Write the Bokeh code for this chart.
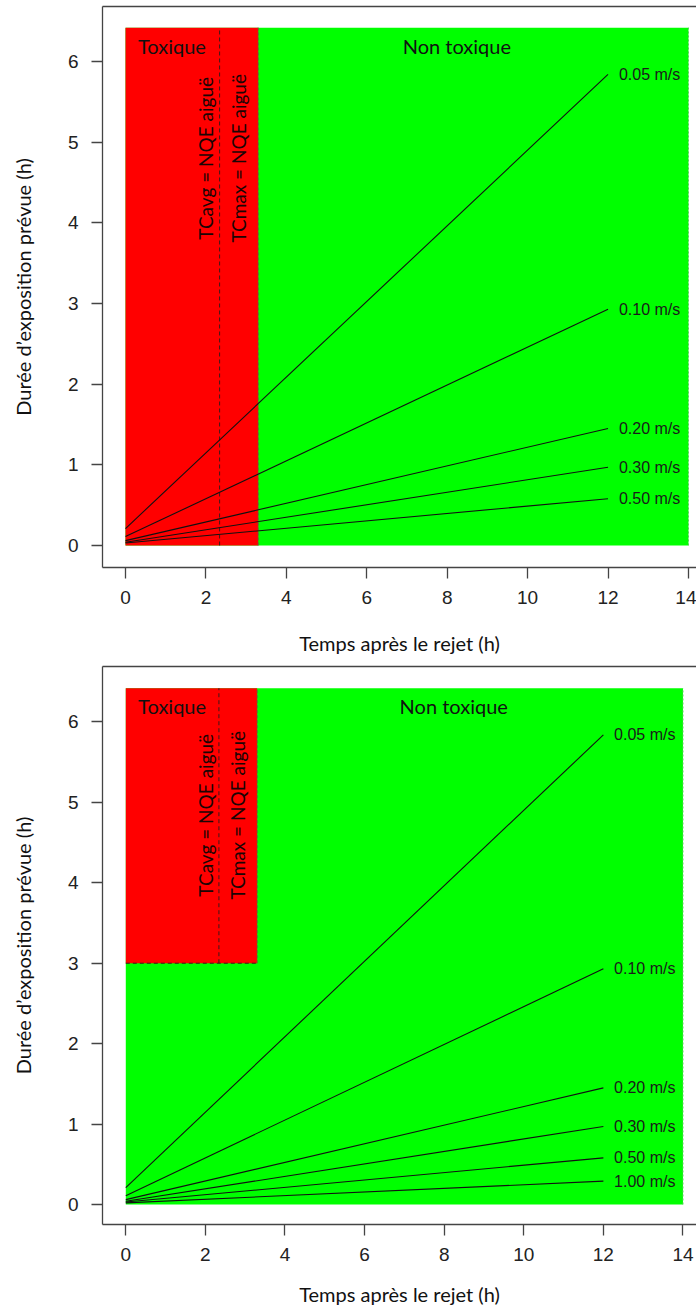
import math
from bokeh.plotting import figure
from bokeh.layouts import column
from bokeh.models import Range1d, LinearAxis, FixedTicker, ColumnDataSource
from bokeh.core.properties import value
from bokeh.embed import file_html
from bokeh.resources import INLINE

# ---------------- data ----------------
speed_labels = ["0.05 m/s", "0.10 m/s", "0.20 m/s", "0.30 m/s", "0.50 m/s", "1.00 m/s"]
t_start = 0.0
t_end = 12.0
dur_start = [0.21, 0.11, 0.06, 0.04, 0.03, 0.02]
dur_end = [5.84, 2.93, 1.45, 0.97, 0.58, 0.29]

x_ticks = [0, 2, 4, 6, 8, 10, 12, 14]
y_ticks = [0, 1, 2, 3, 4, 5, 6]

zone_xmax = 14.0
zone_ytop = 6.42
tc_avg = 2.34          # TCavg = NQE aiguë
tc_max = 3.30          # TCmax = NQE aiguë
toxic_floor = [0.0, 3.0]   # lower bound of toxic zone, panel 1 / panel 2
n_speeds = [5, 6]

x_title = "Temps après le rejet (h)"
y_title = "Durée d\u2019exposition prévue (h)"

TXT_FONT = "Lato"
NUM_FONT = "Liberation Sans"
AX_COL = "#444444"


def panel(idx, height, border_top, border_bottom, border_left, x_range, y_range, lbl_y, xtitle_standoff):
    p = figure(width=696, height=height, x_range=Range1d(*x_range), y_range=Range1d(*y_range),
               output_backend="svg", toolbar_location=None,
               min_border_left=border_left, min_border_right=0,
               min_border_top=border_top, min_border_bottom=border_bottom,
               outline_line_color=None, background_fill_color="white",
               border_fill_color="white")
    p.grid.visible = False

    floor = toxic_floor[idx]
    # green (non toxic) zone
    p.quad(left=[0.0], right=[zone_xmax], bottom=[0.0], top=[zone_ytop],
           fill_color="#00ff00", line_color=None)
    # red (toxic) zone
    p.quad(left=[0.0], right=[tc_max], bottom=[floor], top=[zone_ytop],
           fill_color="#ff0000", line_color=None)
    # dashed borders
    p.line([tc_avg, tc_avg], [floor, zone_ytop], line_color="#3a1a1a", line_width=1, line_dash="4 3")
    p.line([tc_max, tc_max], [floor, zone_ytop], line_color="#6a5a40", line_width=1, line_dash="3 2")
    p.line([zone_xmax, zone_xmax], [0.0, zone_ytop], line_color="#55cc55", line_width=1, line_dash="2 2")
    if floor > 0:
        p.line([0.0, tc_max], [floor, floor], line_color="#3a1a1a", line_width=1, line_dash="4 3")

    # speed lines
    n = n_speeds[idx]
    for i in range(n):
        p.line([t_start, t_end], [dur_start[i], dur_end[i]], line_color="#111111", line_width=1.1)
    src = ColumnDataSource(dict(x=[t_end + 0.27] * n, y=dur_end[:n], t=speed_labels[:n]))
    p.text(x="x", y="y", text="t", source=src, text_font=value(NUM_FONT), text_font_size="16px",
           text_align="left", text_baseline="middle", text_color="#1a1a1a")

    # zone labels
    p.text(x=[0.31], y=[lbl_y], text=["Toxique"], text_font=value(TXT_FONT), text_font_size="20px",
           text_align="left", text_baseline="middle", text_color="#111111")
    p.text(x=[8.24], y=[lbl_y], text=["Non toxique"], text_font=value(TXT_FONT), text_font_size="20px",
           text_align="center", text_baseline="middle", text_color="#111111")
    ymid = 4.8 if idx == 0 else 4.84
    p.text(x=[2.0, 2.81], y=[ymid, ymid], text=["TCavg = NQE aiguë", "TCmax = NQE aiguë"],
           angle=[math.pi / 2, math.pi / 2], text_font=value(TXT_FONT), text_font_size="19px",
           text_align="center", text_baseline="middle", text_color="#1a0505")

    # axes
    xa = p.xaxis[0]
    xa.ticker = FixedTicker(ticks=x_ticks)
    ya = p.yaxis[0]
    ya.ticker = FixedTicker(ticks=y_ticks)
    for ax in (xa, ya):
        ax.axis_line_color = AX_COL
        ax.axis_line_width = 1.3
        ax.major_tick_line_color = AX_COL
        ax.major_tick_line_width = 1.3
        ax.major_tick_in = 0
        ax.major_tick_out = 11
        ax.minor_tick_line_color = None
        ax.major_label_text_font = NUM_FONT
        ax.major_label_text_font_size = "19px"
        ax.major_label_text_color = "#222222"
        ax.axis_label_text_font = TXT_FONT
        ax.axis_label_text_font_size = "20px"
        ax.axis_label_text_font_style = "normal"
        ax.axis_label_text_color = "#111111"
    xa.axis_label = x_title
    xa.major_label_standoff = 12
    xa.axis_label_standoff = xtitle_standoff
    ya.axis_label = y_title
    ya.major_label_standoff = 13
    ya.axis_label_standoff = 30
    ya.major_label_orientation = "horizontal"

    top = LinearAxis(ticker=FixedTicker(ticks=[]), axis_line_color=AX_COL, axis_line_width=1.3,
                     major_tick_line_color=None, minor_tick_line_color=None)
    p.add_layout(top, "above")
    return p


p1 = panel(0, 660, 6, 93, 102, (-0.572, 14.20), (-0.273, 6.682), 6.19, 24)
p2 = panel(1, 653, 6, 89, 97, (-0.585, 14.34), (-0.249, 6.69), 6.20, 18)

layout = column(p1, p2, spacing=0)
open("out.html", "w").write(file_html(layout, INLINE))
